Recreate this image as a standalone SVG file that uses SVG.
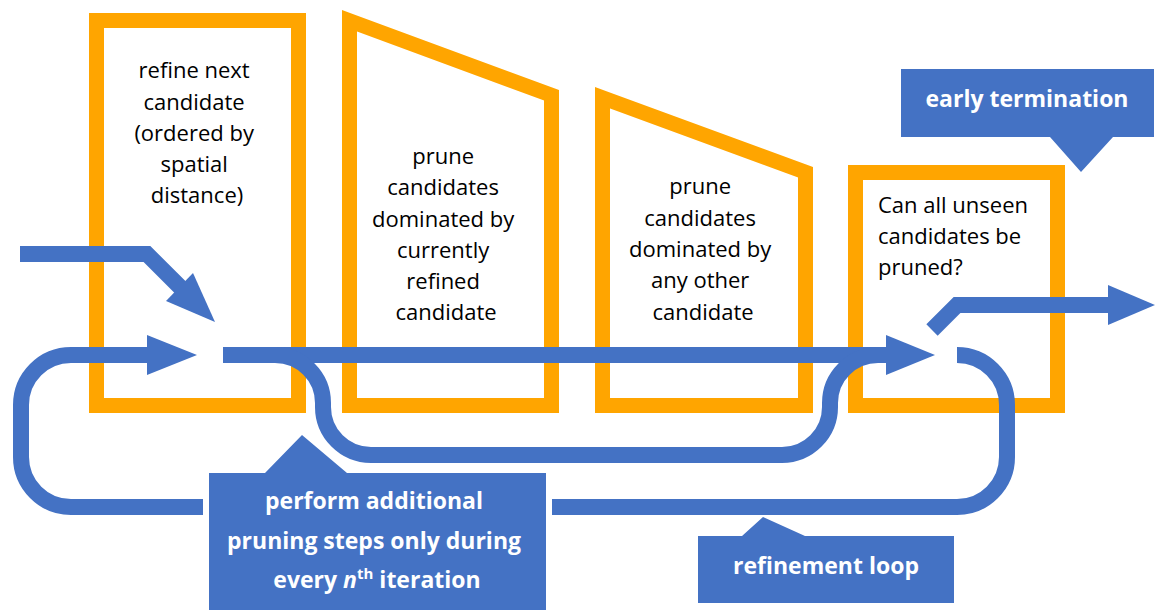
<svg xmlns="http://www.w3.org/2000/svg" width="1155" height="610" viewBox="0 0 1155 610">
  <style>
    .box { fill: none; stroke: #FFA500; stroke-width: 15; stroke-linejoin: miter; }
    .flow { fill: none; stroke: #4472C4; stroke-width: 16; stroke-linecap: butt; stroke-linejoin: miter; }
    .head { fill: #4472C4; }
    .label { font-family: "Open Sans", "Liberation Sans", sans-serif; font-size: 22px; fill: #000; }
    .callout { fill: #4472C4; }
    .callout-text { font-family: "Open Sans", "Liberation Sans", sans-serif; font-size: 23px; font-weight: bold; fill: #fff; text-anchor: middle; }
  </style>

  <!-- process steps -->
  <g id="step-refine">
    <rect class="box" x="96.5" y="20.5" width="202" height="385"/>
    <text class="label" text-anchor="middle">
      <tspan x="197" y="78">refine next</tspan>
      <tspan x="197" y="110">candidate</tspan>
      <tspan x="197" y="141">(ordered by</tspan>
      <tspan x="197" y="172">spatial</tspan>
      <tspan x="197" y="203">distance)</tspan>
    </text>
  </g>

  <g id="step-prune-current">
    <polygon class="box" points="349.5,20.8 551.5,95.3 551.5,405.5 349.5,405.5"/>
    <text class="label" text-anchor="middle">
      <tspan x="446" y="164">prune</tspan>
      <tspan x="446" y="195">candidates</tspan>
      <tspan x="446" y="227">dominated by</tspan>
      <tspan x="446" y="258">currently</tspan>
      <tspan x="446" y="289">refined</tspan>
      <tspan x="446" y="320">candidate</tspan>
    </text>
  </g>

  <g id="step-prune-other">
    <polygon class="box" points="602.5,97.8 805.5,172.3 805.5,405.5 602.5,405.5"/>
    <text class="label" text-anchor="middle">
      <tspan x="703" y="194">prune</tspan>
      <tspan x="703" y="226">candidates</tspan>
      <tspan x="703" y="257">dominated by</tspan>
      <tspan x="703" y="288">any other</tspan>
      <tspan x="703" y="320">candidate</tspan>
    </text>
  </g>

  <g id="step-check">
    <rect class="box" x="855.5" y="172.5" width="202" height="233"/>
    <text class="label">
      <tspan x="878" y="213">Can all unseen</tspan>
      <tspan x="878" y="244">candidates be</tspan>
      <tspan x="878" y="275">pruned?</tspan>
    </text>
  </g>

  <!-- connectors -->
  <g id="connectors">
    <!-- entry -->
    <path class="flow" d="M20 254 L147 254 L181 288"/>
    <polygon class="head" points="215,322 193,273 166,301"/>
    <!-- outer refinement loop -->
    <path class="flow" d="M957 355 A50 50 0 0 1 1007 405 L1007 457 A50 50 0 0 1 957 507 L71 507 A50 50 0 0 1 21 457 L21 405 A50 50 0 0 1 71 355 L148 355"/>
    <polygon class="head" points="147,335 197,355 147,375"/>
    <!-- main pass -->
    <path class="flow" d="M223 355 L887 355"/>
    <polygon class="head" points="886,335 935,355 886,375"/>
    <!-- bypass of additional pruning steps -->
    <path class="flow" d="M275 355 A48 48 0 0 1 323 403 L323 407 A48 48 0 0 0 371 455 L782 455 A48 48 0 0 0 830 407 L830 403 A48 48 0 0 1 878 355"/>
    <!-- exit -->
    <path class="flow" d="M932 330 L957 305 L1109 305"/>
    <polygon class="head" points="1108,285 1155,305 1108,325"/>
  </g>

  <!-- annotations -->
  <g id="note-early-termination">
    <polygon class="callout" points="901,69 1154,69 1154,137 1113,137 1081,172 1050,137 901,137"/>
    <text class="callout-text" x="1027" y="107">early termination</text>
  </g>

  <g id="note-additional-pruning">
    <polygon class="callout" stroke="#fff" stroke-width="12" paint-order="stroke" points="209,473 265,473 302,435 347,473 546,473 546,612 209,612"/>
    <text class="callout-text">
      <tspan x="377" y="509">perform additional</tspan>
      <tspan x="377" y="549">pruning steps only during</tspan>
      <tspan x="377" y="588">every <tspan font-style="italic">n</tspan><tspan font-size="15" dy="-9">th</tspan><tspan dy="9"> iteration</tspan></tspan>
    </text>
  </g>

  <g id="note-refinement-loop">
    <polygon class="callout" points="698,536 742,536 763,517 805,536 954,536 954,603 698,603"/>
    <text class="callout-text" x="826" y="574">refinement loop</text>
  </g>
</svg>
